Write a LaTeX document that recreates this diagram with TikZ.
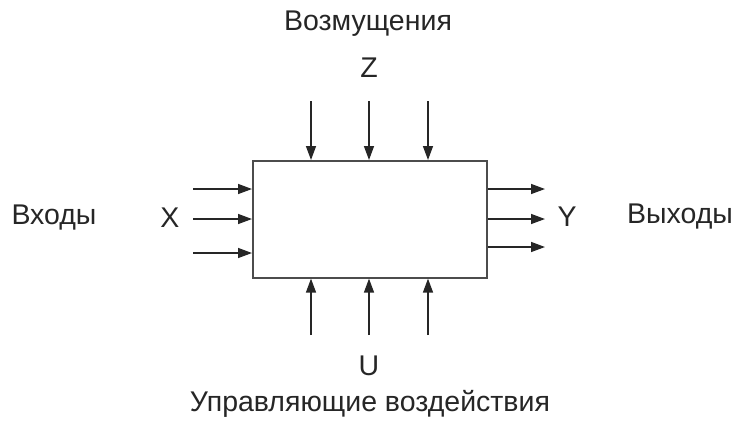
\documentclass[tikz,border=0pt]{standalone}
\usepackage{fontspec}
\setmainfont{Liberation Sans}
\usetikzlibrary{arrows.meta}
\begin{document}
\begin{tikzpicture}[x=1pt,y=-1pt,
  lbl/.style={inner sep=0pt,font=\fontsize{28.5}{32}\selectfont,text=black!85},
  arr/.style={line width=1.4pt,draw=black!85,-{Triangle[length=14pt,width=10pt]}},
  sysbox/.style={draw=black!70,line width=1.6pt,fill=white}]
\useasboundingbox (0,0) rectangle (736,421);
\node[sysbox,minimum width=234pt,minimum height=117pt,inner sep=0pt,anchor=north west] (box) at (252,160) {};
% top inputs
\coordinate (t1) at (311,101);
\coordinate (t2) at (369,101);
\coordinate (t3) at (428,101);
\draw[arr] (t1) -- (t1 |- box.north);
\draw[arr] (t2) -- (t2 |- box.north);
\draw[arr] (t3) -- (t3 |- box.north);
% bottom inputs
\coordinate (b1) at (311,335);
\coordinate (b2) at (369,335);
\coordinate (b3) at (428,335);
\draw[arr] (b1) -- (b1 |- box.south);
\draw[arr] (b2) -- (b2 |- box.south);
\draw[arr] (b3) -- (b3 |- box.south);
% left inputs
\coordinate (l1) at (193,189);
\coordinate (l2) at (193,219);
\coordinate (l3) at (193,253);
\draw[arr] (l1) -- (l1 -| box.west);
\draw[arr] (l2) -- (l2 -| box.west);
\draw[arr] (l3) -- (l3 -| box.west);
% right outputs
\coordinate (r1) at (545,189);
\coordinate (r2) at (545,219);
\coordinate (r3) at (545,247);
\draw[arr] (r1 -| box.east) -- (r1);
\draw[arr] (r2 -| box.east) -- (r2);
\draw[arr] (r3 -| box.east) -- (r3);
% labels
\node[lbl] (zt) at (368,24) {Возмущения};
\node[lbl] (z) at (369,68) {Z};
\node[lbl] (xt) at (54,218) {Входы};
\node[lbl] (x) at (170,218) {X};
\node[lbl] (y) at (567,217) {Y};
\node[lbl] (yt) at (680,217) {Выходы};
\node[lbl] (u) at (369,366) {U};
\node[lbl] (ut) at (370,404) {Управляющие воздействия};
\end{tikzpicture}
\end{document}
